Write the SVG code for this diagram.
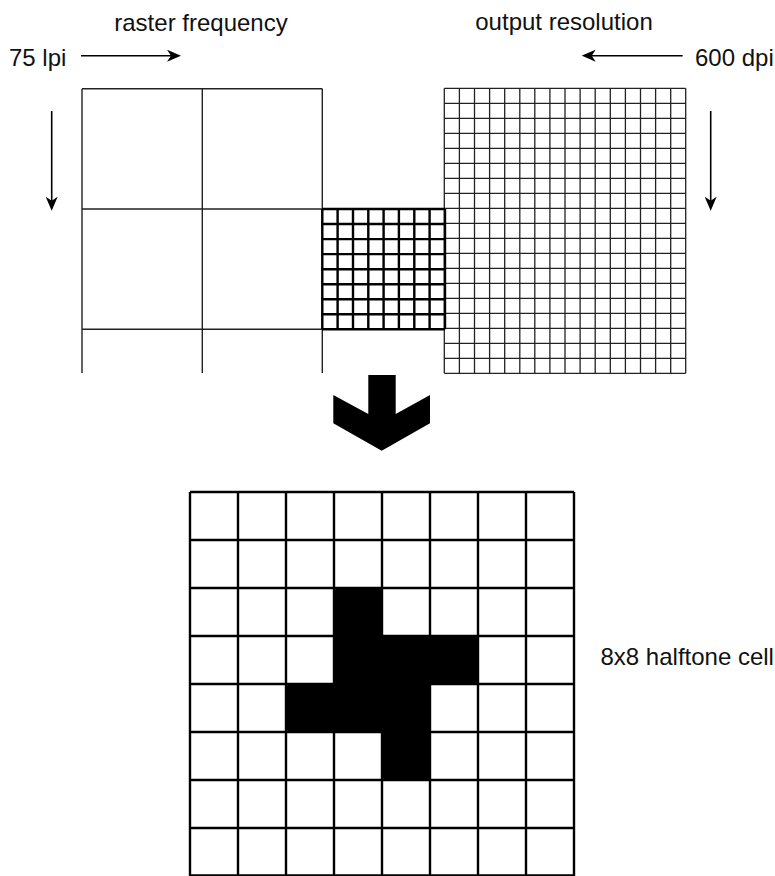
<svg xmlns="http://www.w3.org/2000/svg" width="775" height="876" viewBox="0 0 775 876">
  <style>
    .lbl { font-family: "Liberation Sans", Arial, sans-serif; font-size: 24px; fill: #111; }
    .thin { fill: none; stroke: #222; stroke-width: 1.4; }
    .fine { fill: none; stroke: #222; stroke-width: 1.3; }
    .thick { fill: none; stroke: #000; stroke-width: 2.4; }
    .conn { fill: none; stroke: #000; stroke-width: 1.6; }
  </style>
  <defs>
    <marker id="head" markerUnits="userSpaceOnUse" viewBox="0 0 14 12" refX="8" refY="6" markerWidth="14" markerHeight="12" orient="auto">
      <path d="M0,0 L14,6 L0,12 L4,6 Z" fill="#000"/>
    </marker>
  </defs>
  <rect width="775" height="876" fill="#fff"/>

  <g id="label-raster-frequency">
    <text class="lbl" x="201" y="31" text-anchor="middle">raster frequency</text>
  </g>
  <g id="label-output-resolution">
    <text class="lbl" x="564" y="30" text-anchor="middle">output resolution</text>
  </g>
  <g id="label-75lpi">
    <text class="lbl" x="9" y="66">75 lpi</text>
  </g>
  <g id="label-600dpi">
    <text class="lbl" x="695" y="66">600 dpi</text>
  </g>
  <g id="label-halftone-cell">
    <text class="lbl" x="600.5" y="665">8x8 halftone cell</text>
  </g>

  <g id="raster-grid">
    <path class="thin" d="M82 88.7H322.3 M82 209H322.3 M82 329.3H322.3 M82 88.7V373 M202.3 88.7V373 M322.3 88.7V373"/>
  </g>

  <g id="output-grid">
    <path class="fine" d="M444.3 88.3V373.3 M459.4 88.3V373.3 M474.5 88.3V373.3 M489.6 88.3V373.3 M504.7 88.3V373.3 M519.8 88.3V373.3 M534.8 88.3V373.3 M549.9 88.3V373.3 M565 88.3V373.3 M580.1 88.3V373.3 M595.2 88.3V373.3 M610.3 88.3V373.3 M625.4 88.3V373.3 M640.5 88.3V373.3 M655.6 88.3V373.3 M670.7 88.3V373.3 M685.7 88.3V373.3
      M444.3 88.3H685.7 M444.3 103.3H685.7 M444.3 118.3H685.7 M444.3 133.3H685.7 M444.3 148.3H685.7 M444.3 163.3H685.7 M444.3 178.3H685.7 M444.3 193.3H685.7 M444.3 208.3H685.7 M444.3 223.3H685.7 M444.3 238.3H685.7 M444.3 253.3H685.7 M444.3 268.3H685.7 M444.3 283.3H685.7 M444.3 298.3H685.7 M444.3 313.3H685.7 M444.3 328.3H685.7 M444.3 343.3H685.7 M444.3 358.3H685.7 M444.3 373.3H685.7"/>
  </g>

  <g id="cell-grid-small">
    <path class="thick" d="M322.3 209V329.3 M337.6 209V329.3 M353 209V329.3 M368.3 209V329.3 M383.6 209V329.3 M398.9 209V329.3 M414.3 209V329.3 M429.6 209V329.3 M445 209V329.3
      M322.3 209H445 M322.3 224H445 M322.3 239.1H445 M322.3 254.1H445 M322.3 269.2H445 M322.3 284.2H445 M322.3 299.2H445 M322.3 314.3H445 M322.3 329.3H445"/>
  </g>

  <g id="down-arrow">
    <polygon points="368.3,375 395.7,375 395.7,414 430,395 430,423.3 381.7,450.7 333.3,423.3 333.3,395 368.3,414" fill="#000"/>
  </g>

  <g id="halftone-cell">
    <rect x="334" y="588" width="48" height="48" fill="#000"/>
    <rect x="334" y="636" width="144" height="48" fill="#000"/>
    <rect x="286" y="684" width="144" height="48" fill="#000"/>
    <rect x="382" y="732" width="48" height="48" fill="#000"/>
    <path class="thick" d="M190 492V876 M238 492V876 M286 492V876 M334 492V876 M382 492V876 M430 492V876 M478 492V876 M526 492V876 M574 492V876
      M190 492H574 M190 540H574 M190 588H574 M190 636H574 M190 684H574 M190 732H574 M190 780H574 M190 828H574 M190 875.5H574"/>
  </g>

  <g id="connectors">
    <path class="conn" d="M81 55.7H175" marker-end="url(#head)"/>
    <path class="conn" d="M682.7 55.7H587.7" marker-end="url(#head)"/>
    <path class="conn" d="M51.7 111V204.7" marker-end="url(#head)"/>
    <path class="conn" d="M710.7 111V204.7" marker-end="url(#head)"/>
  </g>
</svg>
